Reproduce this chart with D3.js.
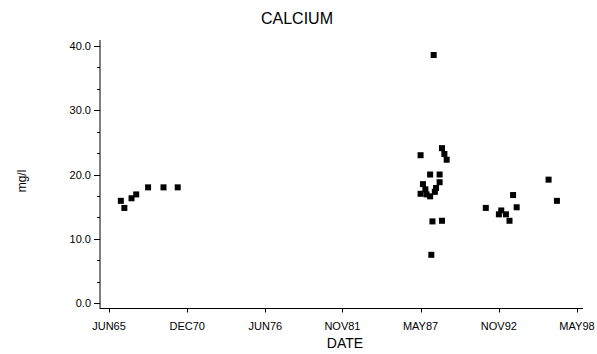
<!DOCTYPE html>
<html>
<head>
<meta charset="utf-8">
<script src="https://cdn.jsdelivr.net/npm/d3@7"></script>
<style>
  body { margin: 0; background: #fff; }
  text { font-family: "Liberation Sans", Arial, sans-serif; fill: #000; }
</style>
</head>
<body>
<div class="chart"></div>
<script>
// sample dates and calcium readings (mg/l)
const sampleDates = [
  '1966-04', '1966-07', '1967-01', '1967-05', '1968-03', '1969-04', '1970-04',
  '1987-05', '1988-04', '1988-11', '1989-01', '1989-03', '1988-01', '1988-09',
  '1987-07', '1987-05', '1987-09', '1987-10', '1988-01', '1988-09', '1988-06',
  '1988-05', '1988-03', '1988-11', '1988-02',
  '1991-12', '1992-11', '1993-01', '1993-05', '1993-08', '1993-11', '1994-02',
  '1996-05', '1996-12'
];
const calcium = [
  15.9, 14.8, 16.3, 16.9, 18.0, 18.0, 18.0,
  23.0, 38.6, 24.1, 23.2, 22.3, 20.0, 20.0,
  18.5, 17.0, 17.7, 16.9, 16.6, 18.8, 17.9,
  17.3, 12.7, 12.8, 7.5,
  14.8, 13.8, 14.4, 13.8, 12.8, 16.8, 14.9,
  19.2, 15.9
];

const xTickDates = ['1965-06', '1970-12', '1976-06', '1981-11', '1987-05', '1992-11', '1998-05'];
const yTicks = [0, 10, 20, 30, 40];

const width = 597;
const height = 354;

const parse = d3.timeParse('%Y-%m');
const fmt = d3.timeFormat('%b%y');

const points = sampleDates.map((d, i) => ({date: parse(d), v: calcium[i]}));
const xTicks = xTickDates.map(parse);

const svg = d3.select('.chart').append('svg')
    .attr('width', width)
    .attr('height', height);

const x = d3.scaleTime()
    .domain([xTicks[0], xTicks[xTicks.length - 1]])
    .range([109, 577]);

const y = d3.scaleLinear()
    .domain([0, 40])
    .range([303, 46]);

// title
svg.append('text')
    .attr('x', 297).attr('y', 24)
    .attr('text-anchor', 'middle')
    .style('font-size', '16px')
    .text('CALCIUM');

// y axis
const yAxis = svg.append('g').attr('transform', 'translate(100,0)');
yAxis.append('line')
    .attr('x1', 0).attr('x2', 0)
    .attr('y1', 40).attr('y2', 309)
    .attr('stroke', '#000');

const minor = d3.range(0, 40.01, 10 / 3);
yAxis.selectAll('.minor').data(minor)
  .enter().append('line')
    .attr('x1', -3).attr('x2', 0)
    .attr('y1', d => Math.round(y(d)) + 0.5)
    .attr('y2', d => Math.round(y(d)) + 0.5)
    .attr('stroke', '#000');

yAxis.selectAll('.major').data(yTicks)
  .enter().append('line')
    .attr('x1', -6).attr('x2', 0)
    .attr('y1', d => Math.round(y(d)) + 0.5)
    .attr('y2', d => Math.round(y(d)) + 0.5)
    .attr('stroke', '#000');

yAxis.selectAll('text').data(yTicks)
  .enter().append('text')
    .attr('x', -9)
    .attr('y', d => y(d) + 4)
    .attr('text-anchor', 'end')
    .style('font-size', '11px')
    .text(d => d.toFixed(1));

svg.append('text')
    .attr('transform', 'translate(26,181) rotate(-90)')
    .attr('text-anchor', 'middle')
    .style('font-size', '12px')
    .text('mg/l');

// x axis
const xAxis = svg.append('g').attr('transform', 'translate(0,308.5)');
xAxis.append('line')
    .attr('x1', 100).attr('x2', 583)
    .attr('y1', 0).attr('y2', 0)
    .attr('stroke', '#000');

xAxis.selectAll('.tick').data(xTicks)
  .enter().append('line')
    .attr('x1', d => Math.round(x(d)) + 0.5)
    .attr('x2', d => Math.round(x(d)) + 0.5)
    .attr('y1', 0).attr('y2', 4)
    .attr('stroke', '#000');

xAxis.selectAll('text').data(xTicks)
  .enter().append('text')
    .attr('x', d => x(d))
    .attr('y', 21)
    .attr('text-anchor', 'middle')
    .style('font-size', '11px')
    .text(d => fmt(d).toUpperCase());

svg.append('text')
    .attr('x', 345).attr('y', 348)
    .attr('text-anchor', 'middle')
    .style('font-size', '14px')
    .text('DATE');

// markers
const s = 6;
svg.selectAll('rect').data(points)
  .enter().append('rect')
    .attr('x', d => x(d.date) - s / 2)
    .attr('y', d => y(d.v) - s / 2)
    .attr('width', s)
    .attr('height', s)
    .attr('fill', '#000');
</script>
</body>
</html>
